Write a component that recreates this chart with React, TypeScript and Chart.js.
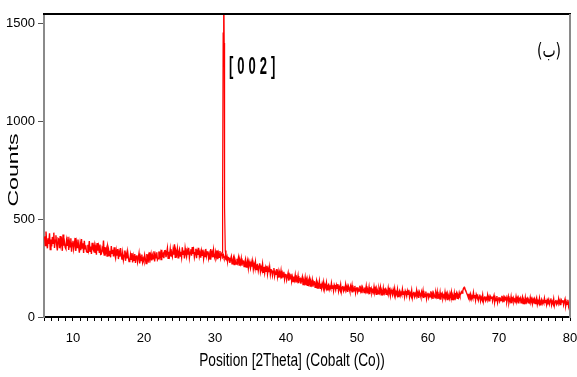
import React, { useEffect, useRef } from 'react';
import { Chart, registerables } from 'chart.js';

Chart.register(...registerables);

// ---- data ----
const startAngle = 6;
const stepAngle = 0.1;
// counts every 0.1 deg, one row per degree (d.0 ... d.9)
const counts: number[] = [
  412, 365, 437, 382, 351, 402, 374, 428, 344, 396, // 6
  360, 409, 377, 431, 353, 392, 418, 369, 340, 401, // 7
  397, 351, 413, 372, 389, 338, 421, 365, 383, 356, // 8
  348, 391, 366, 410, 343, 384, 359, 402, 334, 377, // 9
  389, 347, 371, 404, 338, 380, 355, 396, 361, 329, // 10
  372, 341, 398, 352, 377, 327, 389, 349, 366, 334, // 11
  331, 369, 345, 388, 336, 360, 322, 379, 350, 341, // 12
  366, 327, 355, 318, 378, 339, 361, 331, 370, 320, // 13
  322, 352, 341, 391, 316, 357, 330, 348, 311, 363, // 14
  349, 314, 338, 305, 362, 325, 344, 309, 356, 318, // 15
  301, 339, 314, 347, 296, 330, 308, 352, 319, 293, // 16
  328, 292, 316, 340, 287, 321, 299, 334, 305, 283, // 17
  286, 318, 295, 327, 279, 311, 290, 322, 276, 309, // 18
  315, 281, 302, 325, 274, 306, 288, 319, 280, 297, // 19
  283, 316, 296, 273, 322, 291, 311, 278, 330, 299, // 20
  321, 289, 314, 297, 336, 284, 318, 302, 331, 292, // 21
  299, 335, 309, 327, 293, 343, 312, 322, 301, 338, // 22
  339, 306, 326, 351, 300, 333, 315, 347, 309, 328, // 23
  310, 344, 318, 372, 305, 337, 322, 349, 302, 331, // 24
  346, 312, 333, 306, 356, 320, 340, 299, 351, 325, // 25
  308, 339, 319, 353, 304, 331, 346, 313, 357, 322, // 26
  341, 306, 328, 349, 301, 335, 317, 354, 310, 329, // 27
  303, 337, 315, 344, 299, 326, 309, 348, 312, 332, // 28
  335, 301, 322, 296, 347, 314, 330, 305, 342, 309, // 29
  298, 331, 309, 340, 295, 324, 305, 337, 301, 318, // 30
  322, 310, 318, 304, 300, 312, 296, 309, 286, 303, // 31
  301, 276, 295, 309, 272, 288, 303, 268, 296, 281, // 32
  270, 297, 279, 302, 265, 290, 274, 299, 262, 287, // 33
  286, 258, 279, 295, 255, 274, 290, 251, 283, 266, // 34
  249, 278, 257, 284, 244, 270, 253, 281, 242, 265, // 35
  268, 237, 259, 274, 232, 254, 241, 270, 229, 256, // 36
  225, 252, 234, 262, 220, 247, 229, 256, 217, 242, // 37
  241, 212, 233, 250, 209, 229, 218, 245, 206, 231, // 38
  201, 228, 210, 236, 197, 222, 205, 231, 194, 218, // 39
  219, 190, 208, 225, 186, 211, 195, 221, 183, 204, // 40
  181, 207, 189, 214, 176, 199, 185, 210, 173, 196, // 41
  198, 170, 190, 205, 166, 186, 174, 201, 163, 188, // 42
  162, 187, 171, 194, 158, 181, 167, 190, 155, 178, // 43
  179, 152, 171, 186, 148, 168, 157, 183, 146, 170, // 44
  147, 171, 155, 178, 142, 163, 151, 175, 139, 160, // 45
  166, 141, 155, 145, 173, 147, 162, 135, 164, 153, // 46
  138, 162, 146, 168, 133, 153, 141, 165, 130, 151, // 47
  159, 134, 148, 138, 166, 140, 155, 128, 157, 146, // 48
  131, 157, 140, 162, 126, 146, 134, 159, 124, 145, // 49
  153, 128, 142, 132, 160, 134, 149, 122, 151, 140, // 50
  125, 151, 133, 157, 120, 140, 128, 153, 117, 138, // 51
  147, 122, 136, 126, 154, 128, 143, 116, 145, 134, // 52
  119, 145, 128, 151, 114, 133, 122, 147, 111, 132, // 53
  141, 116, 130, 120, 148, 122, 137, 110, 139, 128, // 54
  113, 139, 122, 145, 108, 127, 116, 141, 105, 126, // 55
  135, 110, 124, 114, 142, 116, 131, 104, 133, 122, // 56
  107, 133, 116, 139, 102, 121, 110, 135, 99, 120, // 57
  129, 104, 118, 108, 136, 110, 125, 98, 127, 116, // 58
  102, 128, 111, 134, 97, 116, 105, 130, 94, 115, // 59
  124, 99, 113, 103, 131, 105, 120, 93, 122, 111, // 60
  98, 123, 106, 129, 92, 111, 100, 125, 89, 110, // 61
  120, 95, 109, 99, 127, 101, 116, 89, 118, 107, // 62
  94, 120, 103, 126, 89, 108, 97, 122, 86, 107, // 63
  121, 95, 112, 101, 124, 110, 118, 129, 122, 134, // 64
  146, 151, 143, 136, 126, 118, 108, 97, 113, 102, // 65
  117, 92, 106, 96, 124, 98, 113, 86, 115, 104, // 66
  110, 86, 101, 115, 82, 99, 89, 112, 79, 97, // 67
  106, 85, 97, 88, 112, 90, 103, 80, 104, 95, // 68
  105, 81, 97, 110, 77, 94, 84, 107, 74, 92, // 69
  102, 81, 93, 84, 108, 86, 99, 76, 100, 91, // 70
  101, 77, 93, 106, 73, 90, 80, 103, 70, 88, // 71
  98, 77, 89, 80, 104, 82, 95, 72, 96, 87, // 72
  97, 73, 89, 102, 69, 86, 76, 99, 66, 84, // 73
  94, 73, 85, 76, 100, 78, 91, 68, 92, 83, // 74
  93, 69, 85, 98, 65, 82, 72, 95, 62, 80, // 75
  90, 69, 81, 72, 96, 74, 87, 64, 88, 79, // 76
  90, 66, 82, 95, 62, 79, 69, 92, 59, 77, // 77
  87, 66, 78, 69, 93, 71, 84, 61, 85, 76, // 78
  86, 62, 78, 91, 58, 75, 65, 88, 55, 73, // 79
  70, // 80
];

// the sharp [002] reflection, finer sampling
const peakAngles = [30.9, 31.0, 31.05, 31.1, 31.15, 31.2, 31.25, 31.3, 31.35, 31.45, 31.55];
const peakCounts = [318, 330, 400, 620, 1450, 1800, 1800, 1400, 560, 340, 300];

const xTickLabels = [10, 20, 30, 40, 50, 60, 70, 80];
const yTickValues = [0, 500, 1000, 1500];
const xMin = 5.92;
const xMax = 80;
const yMin = 0;
const yMax = 1548;

const xTitle = 'Position [2Theta] (Cobalt (Co))';
const yTitle = 'Counts';
const peakLabel = '[002]';
const panelLabel = '(ب)';

const TICK_FONT = '"Liberation Sans Narrow", "Liberation Sans", Arial, sans-serif';
const TEXT_FONT = '"Liberation Sans", Arial, sans-serif';

function drawStretched(
  ctx: CanvasRenderingContext2D,
  text: string,
  x: number,
  y: number,
  font: string,
  sx: number,
  sy: number,
  rot: number,
  align: CanvasTextAlign,
  spacing = '0px'
) {
  ctx.save();
  ctx.translate(x, y);
  ctx.rotate(rot);
  ctx.scale(sx, sy);
  ctx.font = font;
  (ctx as any).letterSpacing = spacing;
  ctx.textAlign = align;
  ctx.textBaseline = 'alphabetic';
  ctx.fillStyle = '#000';
  ctx.fillText(text, 0, 0);
  ctx.restore();
}

const decorPlugin = {
  id: 'decor',
  afterDraw(chart: any) {
    const { ctx, chartArea } = chart;
    ctx.save();
    // top frame line
    ctx.strokeStyle = '#000';
    ctx.lineWidth = 2;
    ctx.beginPath();
    ctx.moveTo(chartArea.left - 1, chartArea.top);
    ctx.lineTo(chartArea.right + 1, chartArea.top);
    ctx.stroke();
    // right frame line
    ctx.strokeStyle = '#8a8a8a';
    ctx.beginPath();
    ctx.moveTo(chartArea.right, chartArea.top);
    ctx.lineTo(chartArea.right, chartArea.bottom + 1);
    ctx.stroke();
    ctx.restore();

    // axis titles
    drawStretched(ctx, xTitle, 292, 366, `13.7px ${TEXT_FONT}`, 1, 1.33, 0, 'center');
    drawStretched(ctx, yTitle, 18, 170, `14px ${TEXT_FONT}`, 1.65, 1, -Math.PI / 2, 'center');
    // annotations
    drawStretched(ctx, peakLabel, 229, 74, `bold 13px ${TEXT_FONT}`, 1, 1.8, 0, 'left', '4px');
    drawStretched(ctx, panelLabel, 549, 57, '14px "DejaVu Sans", sans-serif', 1, 1.4, 0, 'center');
  },
};

export default function App() {
  const ref = useRef<HTMLCanvasElement>(null);

  useEffect(() => {
    document.body.style.margin = '0';
    const mainData = counts.map((c, i) => ({ x: +(startAngle + i * stepAngle).toFixed(2), y: c }));
    const peakData = peakAngles.map((a, i) => ({ x: a, y: peakCounts[i] }));

    const chart = new Chart(ref.current as HTMLCanvasElement, {
      type: 'line',
      data: {
        datasets: [
          {
            data: mainData,
            borderColor: '#ff0000',
            borderWidth: 1.4,
            pointRadius: 0,
            tension: 0,
          },
          {
            data: peakData,
            borderColor: '#ff0000',
            borderWidth: 1.2,
            pointRadius: 0,
            tension: 0,
          },
        ],
      },
      options: {
        animation: false,
        responsive: false,
        devicePixelRatio: 1,
        events: [],
        layout: { padding: { top: 14, right: 7, left: 0, bottom: 0 } },
        plugins: {
          legend: { display: false },
          tooltip: { enabled: false },
          title: { display: false },
        },
        scales: {
          x: {
            type: 'linear',
            min: xMin,
            max: xMax,
            afterFit(scale: any) {
              scale.height = 60;
              scale.paddingLeft = 0;
              scale.paddingRight = 0;
            },
            afterBuildTicks(scale: any) {
              const t: { value: number }[] = [];
              for (let v = Math.ceil(xMin); v <= xMax; v++) t.push({ value: v });
              scale.ticks = t;
            },
            grid: {
              display: true,
              drawOnChartArea: false,
              drawTicks: true,
              tickLength: 4,
              tickColor: '#000',
              tickWidth: 1,
            },
            border: { display: true, color: '#000', width: 2 },
            ticks: {
              autoSkip: false,
              maxRotation: 0,
              padding: 10,
              color: '#000',
              font: { family: TICK_FONT, size: 13 },
              callback: (v: any) => (xTickLabels.includes(Number(v)) ? String(v) : ''),
            },
          },
          y: {
            type: 'linear',
            min: yMin,
            max: yMax,
            afterFit(scale: any) {
              scale.width = 44;
              scale.paddingTop = 0;
              scale.paddingBottom = 0;
            },
            afterBuildTicks(scale: any) {
              scale.ticks = yTickValues.map((v) => ({ value: v }));
            },
            grid: {
              display: true,
              drawOnChartArea: false,
              drawTicks: true,
              tickLength: 6,
              tickColor: '#555',
              tickWidth: 1,
            },
            border: { display: true, color: '#8a8a8a', width: 2 },
            ticks: {
              autoSkip: false,
              padding: 3,
              color: '#000',
              font: { family: TICK_FONT, size: 13 },
              callback: (v: any) => String(v),
            },
          },
        },
      },
      plugins: [decorPlugin],
    } as any);

    return () => chart.destroy();
  }, []);

  return (
    <div style={{ width: 577, height: 377 }}>
      <canvas ref={ref} width={577} height={377} style={{ display: 'block' }} />
    </div>
  );
}
